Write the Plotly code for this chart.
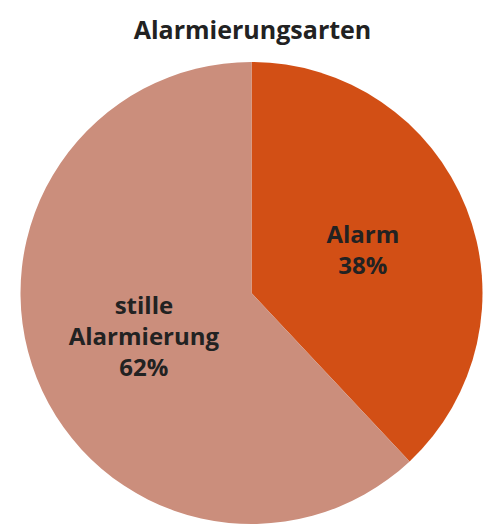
import plotly.graph_objects as go

labels = ["Alarm", "stille<br>Alarmierung"]
values = [38, 62]
colors = ["#D24F15", "#CB8E7C"]

fig = go.Figure(go.Pie(
    labels=labels,
    values=values,
    sort=False,
    direction="clockwise",
    rotation=0,
    marker=dict(colors=colors, line=dict(width=0)),
    texttemplate="%{label}<br>%{percent:.0%}",
    textposition="inside",
    insidetextorientation="horizontal",
    textfont=dict(family="Open Sans", size=24, color="#222222", weight="bold"),
    hoverinfo="label+percent",
    showlegend=False,
))

fig.update_layout(
    width=491, height=526,
    margin=dict(l=12, r=16, t=54, b=10),
    paper_bgcolor="white",
    plot_bgcolor="white",
    title=dict(text="<b>Alarmierungsarten</b>", x=0.498, xanchor="center", y=0.958, yanchor="middle",
               font=dict(family="Open Sans", size=25, color="#222222")),
)

fig.write_html("out.html")
